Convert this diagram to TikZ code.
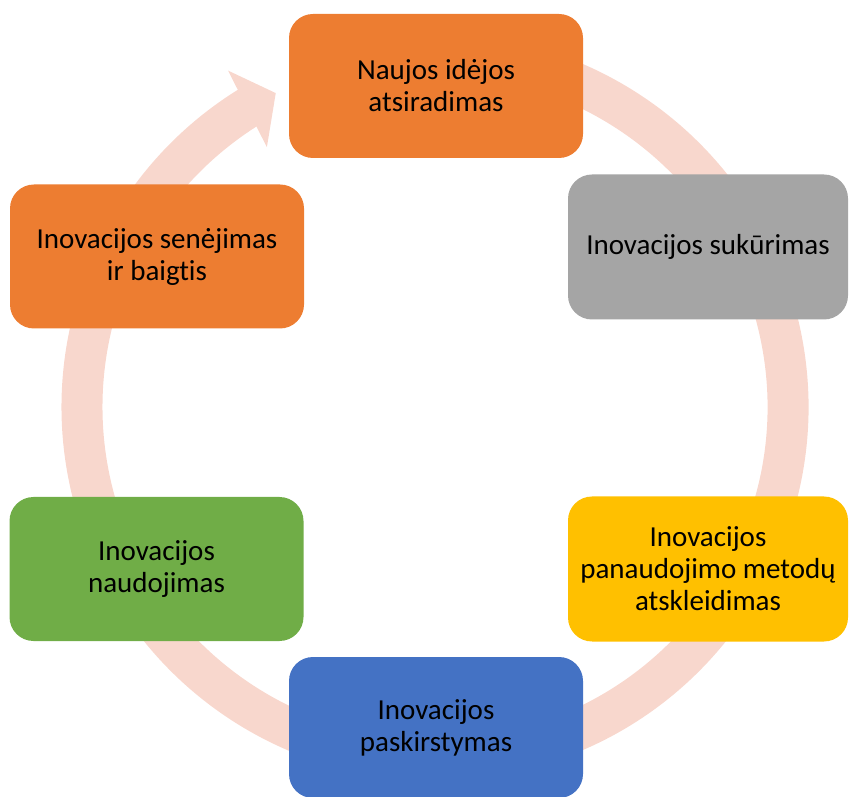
\documentclass[tikz,border=0pt]{standalone}
\usepackage{fontspec}
\setmainfont{Carlito}[Ligatures=NoCommon]
\usepackage{tikz}
\definecolor{ringpink}{HTML}{F8D7CD}
\definecolor{stageorange}{HTML}{ED7D31}
\definecolor{stagegrey}{HTML}{A5A5A5}
\definecolor{stageyellow}{HTML}{FFC000}
\definecolor{stageblue}{HTML}{4472C4}
\definecolor{stagegreen}{HTML}{70AD47}
\tikzstyle{stage}=[rounded corners=24pt, inner sep=0, outer sep=0, align=center, text=black,
                   font=\fontsize{29}{32}\selectfont]
\tikzstyle{widestage}=[stage, minimum width=294, minimum height=144]
\tikzstyle{edgestage}=[stage, minimum width=280, minimum height=145]
\tikzstyle{cycle}=[x=1pt, y=1pt,
                   % Pixel grid of the picture.
                   execute at begin picture={\useasboundingbox (0, 0) rectangle (849, 796);}]

\begin{document}
\begin{tikzpicture}[cycle]
        \coordinate (C) at (435, 389);
        % Ring with its head behind the top stage.
        \draw[ringpink, line width=41] ([shift={(C)}]105:353) arc[start angle=105, end angle=-238.6, radius=353];
        \fill[ringpink] ([shift={(C)}]121.6:395) -- ([shift={(C)}]116.9:352) -- ([shift={(C)}]122.9:309.5) -- cycle;
        \node[widestage, fill=stageorange] (idea) at (436, 710) {Naujos idėjos\\atsiradimas};
        \node[edgestage, fill=stagegrey] (create) at (708, 549) {Inovacijos sukūrimas};
        \node[edgestage, fill=stageyellow] (reveal) at (708, 227) {Inovacijos\\panaudojimo metodų\\atskleidimas};
        \node[widestage, fill=stageblue, minimum height=141] (spread) at (436, 68.5) {Inovacijos\\paskirstymas};
        \node[widestage, fill=stagegreen] (use) at (156.5, 227) {Inovacijos\\naudojimas};
        \node[widestage, fill=stageorange] (decline) at (157, 539.5) {Inovacijos senėjimas\\ir baigtis};
    \end{tikzpicture}
\end{document}
